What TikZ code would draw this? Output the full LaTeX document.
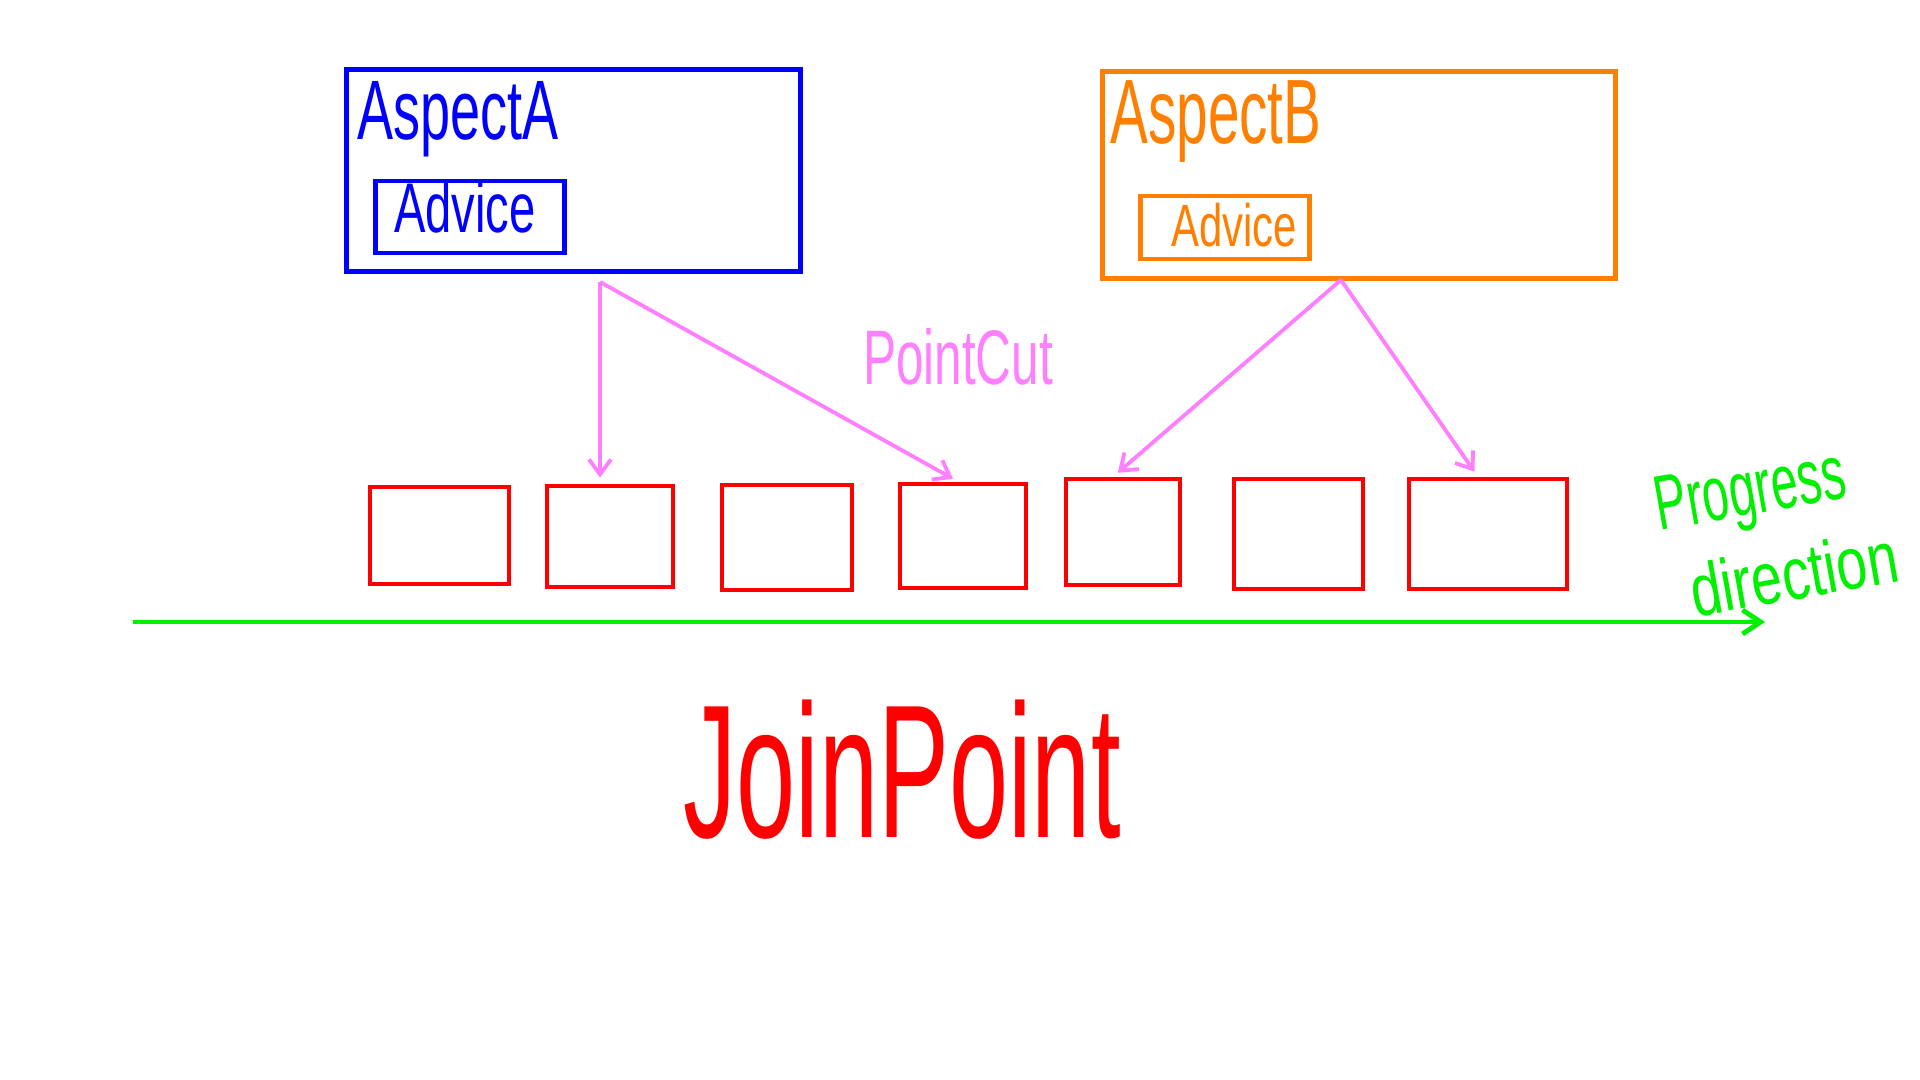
\documentclass[tikz,border=0pt]{standalone}
\usepackage{fontspec}
\setmainfont{Liberation Sans}
\usetikzlibrary{arrows.meta}
\definecolor{aspblue}{RGB}{0,0,255}
\definecolor{asporange}{RGB}{255,128,0}
\definecolor{cutpink}{RGB}{255,128,255}
\definecolor{jpred}{RGB}{255,0,0}
\definecolor{progreen}{RGB}{0,240,0}
\newcommand{\hand}[2]{\scalebox{#1}[1]{#2}}

\begin{document}
\begin{tikzpicture}[x=0.01cm, y=-0.01cm,
    box/.style = {draw, line width=1.4pt, inner sep=0pt},
    jp/.style = {draw=jpred, line width=1.3pt, inner sep=0pt},
    cut/.style = {draw=cutpink, line width=1.1pt, -{Straight Barb[length=1.5mm,width=2.2mm]}, shorten >=0.6mm},
    hw/.style = {anchor=base, inner sep=0pt}]
  \useasboundingbox (0,0) rectangle (1920,1080);

  % aspects
  \node[box, draw=aspblue, minimum width=4.53cm, minimum height=2.01cm] (aspA) at (573.5,170.5) {};
  \node[box, draw=aspblue, minimum width=1.88cm, minimum height=0.72cm] (advA) at (470,217) {};
  \node[box, draw=asporange, minimum width=5.12cm, minimum height=2.06cm] (aspB) at (1359,175) {};
  \node[box, draw=asporange, minimum width=1.68cm, minimum height=0.63cm] (advB) at (1225,227.5) {};
  \node[hw, text=aspblue, font=\fontsize{24}{30}\selectfont] (aspAtxt) at (458,140) {\hand{0.64}{AspectA}};
  \node[hw, text=aspblue, font=\fontsize{20}{24}\selectfont] (advAtxt) at (465,233) {\hand{0.67}{Advice}};
  \node[hw, text=asporange, font=\fontsize{26}{32}\selectfont] (aspBtxt) at (1216,144) {\hand{0.62}{AspectB}};
  \node[hw, text=asporange, font=\fontsize{17}{20}\selectfont] (advBtxt) at (1234,247) {\hand{0.7}{Advice}};

  % join points
  \node[jp, minimum width=1.39cm, minimum height=0.97cm] (jp1) at (439.5,535.5) {};
  \node[jp, minimum width=1.26cm, minimum height=1.01cm] (jp2) at (610,536.5) {};
  \node[jp, minimum width=1.30cm, minimum height=1.05cm] (jp3) at (787,537.5) {};
  \node[jp, minimum width=1.26cm, minimum height=1.04cm] (jp4) at (963,536) {};
  \node[jp, minimum width=1.14cm, minimum height=1.06cm] (jp5) at (1123,532) {};
  \node[jp, minimum width=1.29cm, minimum height=1.10cm] (jp6) at (1298.5,534) {};
  \node[jp, minimum width=1.58cm, minimum height=1.10cm] (jp7) at (1488,534) {};

  % pointcuts
  \coordinate (aPC) at (600,282);
  \coordinate (bPC) at (1341,280);
  \draw[cut] (aPC) -- (aPC |- jp2.north);
  \draw[cut] (aPC) -- (jp4.95);
  \draw[cut] (bPC) -- (jp5.100);
  \draw[cut] (bPC) -- (jp7.100);
  \node[hw, text=cutpink, font=\fontsize{22}{26}\selectfont] (pc) at (958,385) {\hand{0.64}{PointCut}};

  % progress axis
  \coordinate (axS) at (133,622);
  \coordinate (axE) at (1765,622);
  \draw[draw=progreen, line width=1.4pt, -{Straight Barb[length=1.8mm,width=2.4mm]}] (axS) -- (axE);
  \node[text=progreen, inner sep=0pt, align=left, rotate=10, font=\fontsize{22}{26}\selectfont] (prog) at (1776,530)
    {\hand{0.62}{Progress}\\\hspace*{0.2cm}\fontsize{21}{26}\selectfont\hand{0.75}{direction}};

  \node[hw, text=jpred, font=\fontsize{54}{60}\selectfont] (jptxt) at (902,838) {\hand{0.56}{JoinPoint}};
\end{tikzpicture}
\end{document}
